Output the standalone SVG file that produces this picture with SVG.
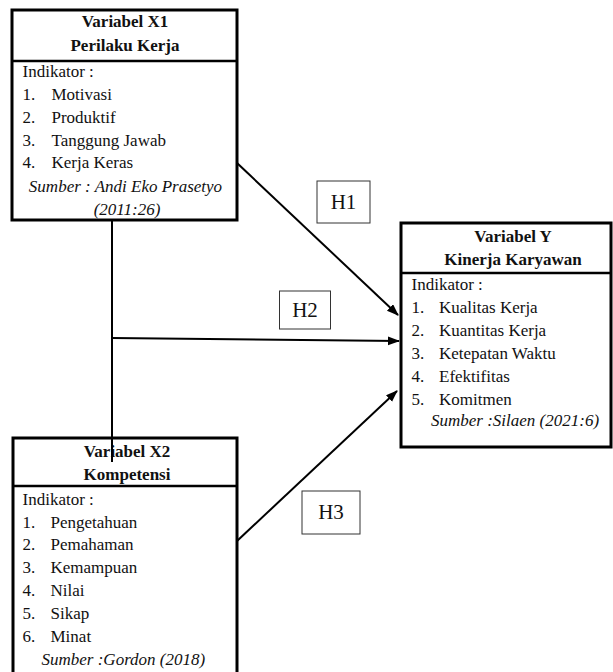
<svg xmlns="http://www.w3.org/2000/svg" width="613" height="672" viewBox="0 0 613 672">
<style>
.box{fill:#fff;stroke:#000;stroke-width:3}
.div{stroke:#000;stroke-width:2.5}
.hd{font-size:17px;font-weight:bold;text-anchor:middle;fill:#111}
.tx{font-size:17px;fill:#111}
.src{font-size:17px;font-style:italic;fill:#111}
.lbl{fill:#fff;stroke:#333;stroke-width:1}
.lt{font-size:21px;text-anchor:middle;fill:#111}
.con{stroke:#000;stroke-width:2;fill:none}
</style>
<defs>
<marker id="ah" markerUnits="userSpaceOnUse" markerWidth="12" markerHeight="10" refX="11" refY="4.5" orient="auto">
<path d="M0,0 L12,4.5 L0,9 z" fill="#000"/>
</marker>
</defs>
<g id="x1">
<rect class="box" x="12" y="10" width="225" height="210"/>
<line class="div" x1="12" y1="61" x2="237" y2="61"/>
<text class="hd" font-family="Liberation Serif" x="125" y="27">Variabel X1</text>
<text class="hd" font-family="Liberation Serif" x="125" y="51">Perilaku Kerja</text>
<text class="tx" font-family="Liberation Serif" x="22.5" y="77">Indikator :</text>
<text class="tx" font-family="Liberation Serif" x="22.5" y="100">1.</text><text class="tx" font-family="Liberation Serif" x="51.5" y="100">Motivasi</text>
<text class="tx" font-family="Liberation Serif" x="22.5" y="123">2.</text><text class="tx" font-family="Liberation Serif" x="51.5" y="123">Produktif</text>
<text class="tx" font-family="Liberation Serif" x="22.5" y="146">3.</text><text class="tx" font-family="Liberation Serif" x="51.5" y="146">Tanggung Jawab</text>
<text class="tx" font-family="Liberation Serif" x="22.5" y="168">4.</text><text class="tx" font-family="Liberation Serif" x="51.5" y="168">Kerja Keras</text>
<text class="src" font-family="Liberation Serif" x="125.5" y="192" text-anchor="middle">Sumber : Andi Eko Prasetyo</text>
<text class="src" font-family="Liberation Serif" x="127" y="215" text-anchor="middle">(2011:26)</text>
</g>
<g id="y">
<rect class="box" x="401" y="223" width="210" height="224"/>
<line class="div" x1="401" y1="273" x2="611" y2="273"/>
<text class="hd" font-family="Liberation Serif" x="513" y="242">Variabel Y</text>
<text class="hd" font-family="Liberation Serif" x="513" y="265">Kinerja Karyawan</text>
<text class="tx" font-family="Liberation Serif" x="411.5" y="290">Indikator :</text>
<text class="tx" font-family="Liberation Serif" x="411.5" y="313">1.</text><text class="tx" font-family="Liberation Serif" x="439" y="313">Kualitas Kerja</text>
<text class="tx" font-family="Liberation Serif" x="411.5" y="336">2.</text><text class="tx" font-family="Liberation Serif" x="439" y="336">Kuantitas Kerja</text>
<text class="tx" font-family="Liberation Serif" x="411.5" y="359">3.</text><text class="tx" font-family="Liberation Serif" x="439" y="359">Ketepatan Waktu</text>
<text class="tx" font-family="Liberation Serif" x="411.5" y="382">4.</text><text class="tx" font-family="Liberation Serif" x="439" y="382">Efektifitas</text>
<text class="tx" font-family="Liberation Serif" x="411.5" y="405">5.</text><text class="tx" font-family="Liberation Serif" x="439" y="405">Komitmen</text>
<text class="src" font-family="Liberation Serif" x="431" y="426">Sumber :Silaen (2021:6)</text>
</g>
<g id="x2">
<rect class="box" x="13" y="438" width="224" height="250"/>
<line class="div" x1="13" y1="486" x2="237" y2="486"/>
<text class="hd" font-family="Liberation Serif" x="127" y="457">Variabel X2</text>
<text class="hd" font-family="Liberation Serif" x="127" y="480">Kompetensi</text>
<text class="tx" font-family="Liberation Serif" x="22.5" y="505">Indikator :</text>
<text class="tx" font-family="Liberation Serif" x="22.5" y="528">1.</text><text class="tx" font-family="Liberation Serif" x="50.5" y="528">Pengetahuan</text>
<text class="tx" font-family="Liberation Serif" x="22.5" y="550">2.</text><text class="tx" font-family="Liberation Serif" x="50.5" y="550">Pemahaman</text>
<text class="tx" font-family="Liberation Serif" x="22.5" y="573">3.</text><text class="tx" font-family="Liberation Serif" x="50.5" y="573">Kemampuan</text>
<text class="tx" font-family="Liberation Serif" x="22.5" y="596">4.</text><text class="tx" font-family="Liberation Serif" x="50.5" y="596">Nilai</text>
<text class="tx" font-family="Liberation Serif" x="22.5" y="619">5.</text><text class="tx" font-family="Liberation Serif" x="50.5" y="619">Sikap</text>
<text class="tx" font-family="Liberation Serif" x="22.5" y="642">6.</text><text class="tx" font-family="Liberation Serif" x="50.5" y="642">Minat</text>
<text class="src" font-family="Liberation Serif" x="41.5" y="665">Sumber :Gordon (2018)</text>
</g>
<g id="connectors">
<line class="con" x1="112" y1="220" x2="112" y2="462"/>
<line class="con" x1="237" y1="163" x2="398" y2="315" marker-end="url(#ah)"/>
<line class="con" x1="112" y1="338" x2="399" y2="341" marker-end="url(#ah)"/>
<line class="con" x1="237" y1="541" x2="397" y2="391" marker-end="url(#ah)"/>
</g>
<g id="h1">
<rect class="lbl" x="317" y="181" width="53" height="42"/>
<text class="lt" font-family="Liberation Serif" x="343.5" y="209">H1</text>
</g>
<g id="h2">
<rect class="lbl" x="279.5" y="291" width="51" height="38"/>
<text class="lt" font-family="Liberation Serif" x="305" y="317">H2</text>
</g>
<g id="h3">
<rect class="lbl" x="302" y="491" width="58" height="43"/>
<text class="lt" font-family="Liberation Serif" x="331" y="519">H3</text>
</g>
</svg>
